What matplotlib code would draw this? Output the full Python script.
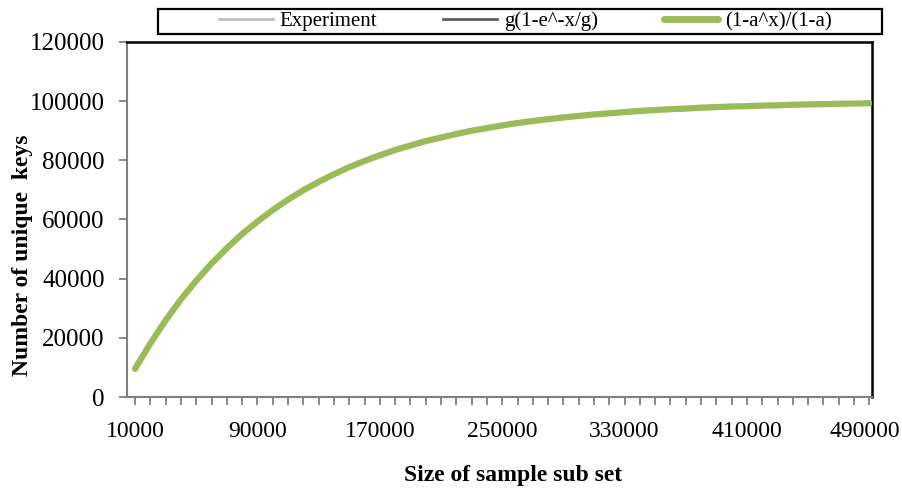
import numpy as np
import matplotlib
matplotlib.use("Agg")
import matplotlib.pyplot as plt
from matplotlib.ticker import FixedLocator
from matplotlib.patches import Rectangle
from matplotlib.transforms import ScaledTranslation

# sample sizes (category axis in the original, 10000 .. 490000)
sizes = list(range(10000, 490001, 10000))

# values; the three series lie on top of each other
experiment = [9500, 18100, 25900, 33000, 39300, 45100, 50300, 55100, 59300, 63200,
              66700, 69900, 72700, 75300, 77700, 79800, 81700, 83500, 85000, 86500,
              87700, 88900, 90000, 90900, 91800, 92600, 93300, 93900, 94500, 95000,
              95500, 95900, 96300, 96700, 97000, 97300, 97500, 97800, 98000, 98200,
              98300, 98500, 98600, 98800, 98900, 99000, 99100, 99200, 99300]
g_model = [9500, 18100, 25900, 33000, 39300, 45100, 50300, 55100, 59300, 63200,
           66700, 69900, 72700, 75300, 77700, 79800, 81700, 83500, 85000, 86500,
           87700, 88900, 90000, 90900, 91800, 92600, 93300, 93900, 94500, 95000,
           95500, 95900, 96300, 96700, 97000, 97300, 97500, 97800, 98000, 98200,
           98300, 98500, 98600, 98800, 98900, 99000, 99100, 99200, 99300]
a_model = [9500, 18100, 25900, 33000, 39300, 45100, 50300, 55100, 59300, 63200,
           66700, 69900, 72700, 75300, 77700, 79800, 81700, 83500, 85000, 86500,
           87700, 88900, 90000, 90900, 91800, 92600, 93300, 93900, 94500, 95000,
           95500, 95900, 96300, 96700, 97000, 97300, 97500, 97800, 98000, 98200,
           98300, 98500, 98600, 98800, 98900, 99000, 99100, 99200, 99300]

series_names = ["Experiment", "g(1-e^-x/g)", "(1-a^x)/(1-a)"]
x_ticklabels = ["10000", "90000", "170000", "250000", "330000", "410000", "490000"]
y_ticks = [0, 20000, 40000, 60000, 80000, 100000, 120000]

plt.rcParams['font.family'] = ['Liberation Serif', 'DejaVu Serif']

W, H = 902, 492
fig = plt.figure(figsize=(W / 100, H / 100), dpi=100)
ax = fig.add_axes([127 / W, 1 - 397 / H, (872 - 127) / W, (397 - 42) / H])

ax.plot(sizes, experiment, color='#c0c0c0', lw=1.4, label=series_names[0], zorder=2)
ax.plot(sizes, g_model, color='#606060', lw=1.4, label=series_names[1], zorder=3)
ax.plot(sizes, a_model, color='#9bbb59', lw=4.5, label=series_names[2],
        solid_capstyle='round', zorder=4)

ax.set_xlim(4770, 491700)
ax.set_ylim(0, 120000)

ax.xaxis.set_major_locator(FixedLocator([int(s) for s in x_ticklabels]))
ax.xaxis.set_minor_locator(FixedLocator(sizes))
ax.set_xticklabels(x_ticklabels)
ax.set_yticks(y_ticks)
ax.set_yticklabels([str(v) for v in y_ticks])

ax.tick_params(axis='x', which='both', direction='out', length=6, width=1.3,
               color='#808080', pad=11, labelsize=17)
ax.tick_params(axis='y', direction='out', length=6, width=1.3, color='#808080',
               pad=10, labelsize=18)

# the last label sits right against the figure edge in the original
last = ax.xaxis.get_major_ticks()[-1].label1
last.set_transform(last.get_transform() + ScaledTranslation(-5 / 100, 0, fig.dpi_scale_trans))

for side in ['left', 'bottom']:
    ax.spines[side].set_color('#808080')
    ax.spines[side].set_linewidth(1.5)
for side in ['top', 'right']:
    ax.spines[side].set_color('black')
    ax.spines[side].set_linewidth(1.8)

ax.set_xlabel("Size of sample sub set", fontsize=17, fontweight='bold')
ax.set_ylabel("Number of unique  keys", fontsize=17, fontweight='bold')
ax.xaxis.set_label_coords((513 - 127) / 745, (397 - 476) / 355)
ax.yaxis.set_label_coords((22 - 127) / 745, (397 - 255) / 355)
ax.xaxis.label.set_va('center')
ax.yaxis.label.set_va('center')

# legend frame is wider than its entries in the original
fig.patches.append(Rectangle((158 / W, 1 - 34 / H), (882 - 158) / W, 25 / H,
                             transform=fig.transFigure, fill=False,
                             edgecolor='black', linewidth=1.6))
leg = fig.legend(loc='center', ncol=3, bbox_to_anchor=(525 / W, 1 - 21.5 / H),
                 frameon=False, fontsize=15, handlelength=2.6,
                 handletextpad=0.3, columnspacing=3.2, borderpad=0,
                 borderaxespad=0)
for h in leg.legend_handles[:2]:
    h.set_linewidth(2)
leg.legend_handles[2].set_linewidth(5)

fig.savefig("out.png", dpi=100)
